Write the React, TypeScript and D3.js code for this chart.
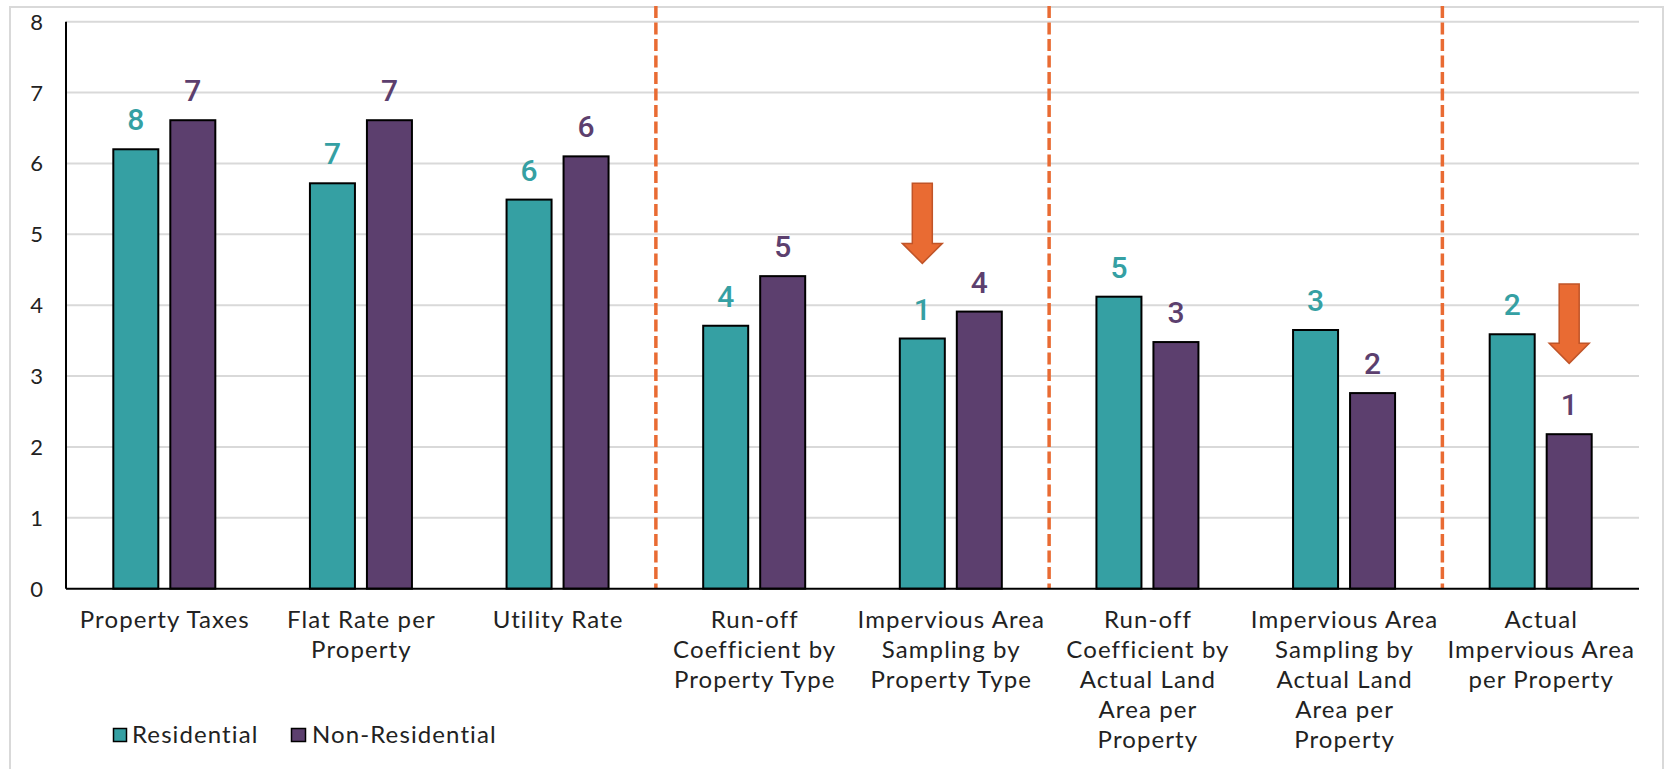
import React from "react";
import * as d3 from "d3";

const categories: string[][] = [
  ["Property Taxes"],
  ["Flat Rate per", "Property"],
  ["Utility Rate"],
  ["Run-off", "Coefficient by", "Property Type"],
  ["Impervious Area", "Sampling by", "Property Type"],
  ["Run-off", "Coefficient by", "Actual Land", "Area per", "Property"],
  ["Impervious Area", "Sampling by", "Actual Land", "Area per", "Property"],
  ["Actual", "Impervious Area", "per Property"],
];
const seriesNames = ["Residential", "Non-Residential"];
const residential = [6.2, 5.72, 5.49, 3.71, 3.53, 4.12, 3.65, 3.59];
const nonResidential = [6.61, 6.61, 6.1, 4.41, 3.91, 3.48, 2.76, 2.18];
const residentialRank = [8, 7, 6, 4, 1, 5, 3, 2];
const nonResidentialRank = [7, 7, 6, 5, 4, 3, 2, 1];
const yTicks = [0, 1, 2, 3, 4, 5, 6, 7, 8];
const dividerAfter = [2, 4, 6];
// arrows: category index, series index, top value, tip value
const arrowCat = [4, 7];
const arrowSeries = [0, 1];
const arrowTop = [5.72, 4.3];
const arrowTip = [4.59, 3.18];

const W = 1669;
const H = 769;
const TEAL = "#35A0A3";
const PURPLE = "#5C3F6E";
const ORANGE = "#E96B33";
const AXIS_FONT = "Lato, 'Noto Sans', sans-serif";
const LABEL_FONT = "Roboto, 'Noto Sans', sans-serif";
const TEXT_COLOR = "#222";

export default function App() {
  const left = 66, right = 1639, top = 21.7, bottom = 588.7;
  const x = d3.scaleBand<number>().domain(categories.map((_, i) => i)).range([left, right]).padding(0);
  const y = d3.scaleLinear().domain([0, 8]).range([bottom, top]);
  const xs = d3.scaleBand<number>().domain([0, 1]).range([0, x.bandwidth()]).paddingInner(0.2105).paddingOuter(0.83);
  const values = [residential, nonResidential];
  const ranks = [residentialRank, nonResidentialRank];
  const colors = [TEAL, PURPLE];

  return (
    <svg width={W} height={H} style={{ position: "absolute", left: 0, top: 0, background: "#fff" }}>
      <rect x={10} y={7} width={1653} height={770} fill="#fff" stroke="#d9d9d9" strokeWidth={2} />
      {yTicks.map((t) => (
        <g key={t}>
          {t > 0 && <line x1={left} x2={right} y1={y(t)} y2={y(t)} stroke="#d9d9d9" strokeWidth={2} />}
          <text x={43} y={y(t) + 8} textAnchor="end" fontFamily={AXIS_FONT} fontSize={22} fill={TEXT_COLOR}>{t}</text>
        </g>
      ))}
      {dividerAfter.map((i) => {
        const xx = (x(i) as number) + x.bandwidth();
        return <line key={i} x1={xx} x2={xx} y1={6} y2={bottom} stroke={ORANGE} strokeWidth={3.5} strokeDasharray="12,4.5" />;
      })}
      {values.map((vals, s) =>
        vals.map((v, i) => {
          const bx = (x(i) as number) + (xs(s) as number);
          return (
            <g key={s + "-" + i}>
              <rect x={bx} y={y(v)} width={xs.bandwidth()} height={bottom - y(v)} fill={colors[s]} stroke="#000" strokeWidth={2} />
              <text x={bx + xs.bandwidth() / 2} y={y(v) - 19} textAnchor="middle" fontFamily={LABEL_FONT} fontWeight={500} fontSize={30} fill={colors[s]}>{ranks[s][i]}</text>
            </g>
          );
        })
      )}
      <line x1={left} x2={left} y1={top} y2={bottom} stroke="#000" strokeWidth={2} />
      <line x1={left} x2={right} y1={bottom} y2={bottom} stroke="#000" strokeWidth={2} />
      {arrowCat.map((c, k) => {
        const cx = (x(c) as number) + (xs(arrowSeries[k]) as number) + xs.bandwidth() / 2;
        const yt = y(arrowTop[k]);
        const yp = y(arrowTip[k]);
        const headY = yp - 20;
        const path = `M${cx - 10},${yt} L${cx + 10},${yt} L${cx + 10},${headY} L${cx + 20},${headY} L${cx},${yp} L${cx - 20},${headY} L${cx - 10},${headY} Z`;
        return <path key={k} d={path} fill={ORANGE} stroke="#C05428" strokeWidth={1.5} />;
      })}
      {categories.map((lines, i) => (
        <text key={i} textAnchor="middle" fontFamily={AXIS_FONT} fontSize={24} letterSpacing={1.1} fill={TEXT_COLOR}>
          {lines.map((ln, j) => (
            <tspan key={j} x={(x(i) as number) + x.bandwidth() / 2 + 0.5} y={628 + j * 30}>{ln}</tspan>
          ))}
        </text>
      ))}
      <g>
        <rect x={113.5} y={728.5} width={13} height={13} fill={TEAL} stroke="#000" strokeWidth={1.5} />
        <text x={132} y={743} fontFamily={AXIS_FONT} fontSize={24} letterSpacing={1.1} fill={TEXT_COLOR}>{seriesNames[0]}</text>
        <rect x={291.5} y={728.5} width={14} height={13} fill={PURPLE} stroke="#000" strokeWidth={1.5} />
        <text x={312} y={743} fontFamily={AXIS_FONT} fontSize={24} letterSpacing={1.1} fill={TEXT_COLOR}>{seriesNames[1]}</text>
      </g>
    </svg>
  );
}
